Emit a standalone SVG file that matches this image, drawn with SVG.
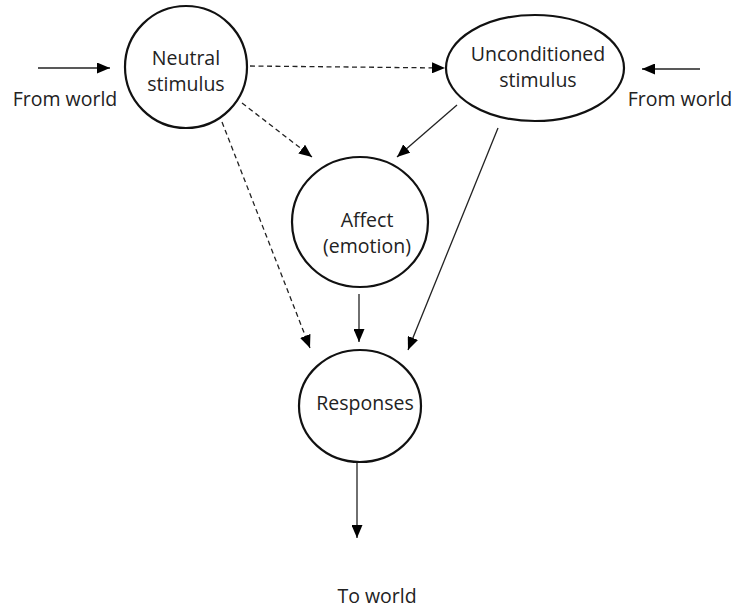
<svg xmlns="http://www.w3.org/2000/svg" width="735" height="609" viewBox="0 0 735 609">
<style>
.node{fill:#fff;stroke:#111;stroke-width:2.2}
.lbl{font-family:"Open Sans","Liberation Sans",sans-serif;font-size:19.5px;fill:#222;text-anchor:middle}
.c{stroke:#222;stroke-width:1.3;fill:none}
.d{stroke-dasharray:5,3.5}
</style>
<defs>
<marker id="ah" viewBox="0 0 13 11" refX="13" refY="5.5" markerWidth="13" markerHeight="11" markerUnits="userSpaceOnUse" orient="auto">
<path d="M0,0 L13,5.5 L0,11 Z" fill="#000"/>
</marker>
</defs>
<rect width="735" height="609" fill="#fff"/>
<g id="connectors">
<line class="c" x1="38" y1="68" x2="110" y2="68" marker-end="url(#ah)"/>
<line class="c" x1="700" y1="69" x2="642" y2="69" marker-end="url(#ah)"/>
<line class="c d" x1="250" y1="66" x2="445" y2="68" marker-end="url(#ah)"/>
<line class="c d" x1="242" y1="103" x2="312" y2="157" marker-end="url(#ah)"/>
<line class="c d" x1="222" y1="122" x2="310" y2="348" marker-end="url(#ah)"/>
<line class="c" x1="457" y1="105" x2="397" y2="157" marker-end="url(#ah)"/>
<line class="c" x1="498" y1="128" x2="408" y2="350" marker-end="url(#ah)"/>
<line class="c" x1="359" y1="294" x2="359" y2="342" marker-end="url(#ah)"/>
<line class="c" x1="357" y1="462" x2="357" y2="538" marker-end="url(#ah)"/>
</g>
<g id="neutral">
<circle class="node" cx="186" cy="67" r="61"/>
<text class="lbl" x="186" y="65">Neutral</text>
<text class="lbl" x="186" y="91">stimulus</text>
</g>
<g id="unconditioned">
<ellipse class="node" cx="535" cy="68" rx="89" ry="53"/>
<text class="lbl" x="538" y="61">Unconditioned</text>
<text class="lbl" x="538" y="87">stimulus</text>
</g>
<g id="affect">
<ellipse class="node" cx="360" cy="222" rx="68" ry="65"/>
<text class="lbl" x="367" y="227">Affect</text>
<text class="lbl" x="367" y="253">(emotion)</text>
</g>
<g id="responses">
<ellipse class="node" cx="360" cy="406" rx="61" ry="56"/>
<text class="lbl" x="365" y="410">Responses</text>
</g>
<g id="labels">
<text class="lbl" x="65" y="106">From world</text>
<text class="lbl" x="680" y="106">From world</text>
<text class="lbl" x="377" y="603">To world</text>
</g>
</svg>
